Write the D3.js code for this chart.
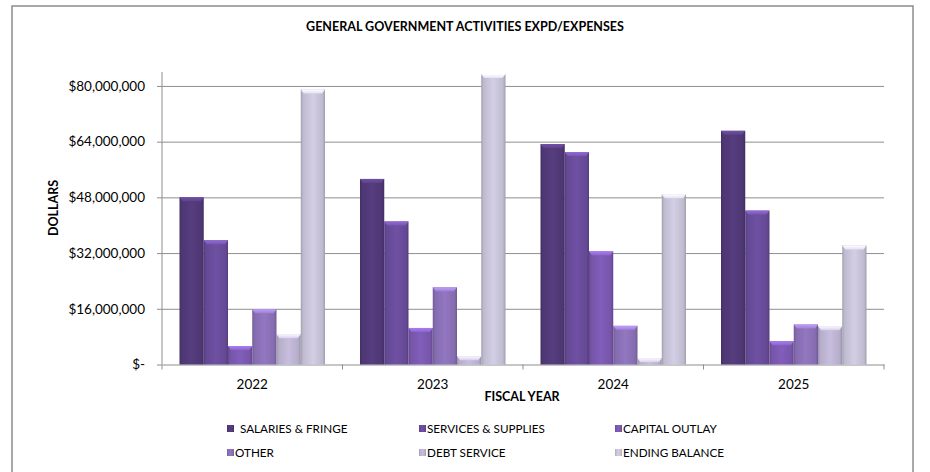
<!DOCTYPE html>
<html>
<head>
<meta charset="utf-8">
<script src="https://cdn.jsdelivr.net/npm/d3@7"></script>
<style>
  html, body { margin: 0; padding: 0; background: #fff; }
  svg { display: block; }
  text { font-family: Lato, "Open Sans", "Noto Sans", sans-serif; fill: #000; }
</style>
</head>
<body>
<svg id="chart" width="930" height="472"></svg>
<script>
// Fiscal years on the category axis
const years = ["2022", "2023", "2024", "2025"];

// Series names, in legend order
const seriesNames = ["SALARIES & FRINGE", "SERVICES & SUPPLIES", "CAPITAL OUTLAY", "OTHER", "DEBT SERVICE", "ENDING BALANCE"];

// Dollar amounts per fiscal year
const salariesFringe   = [48000000, 53300000, 63300000, 67100000];
const servicesSupplies = [35700000, 41100000, 61000000, 44200000];
const capitalOutlay    = [5300000, 10500000, 32500000, 6700000];
const otherExp         = [15900000, 22200000, 11100000, 11500000];
const debtService      = [8700000, 2400000, 1800000, 11000000];
const endingBalance    = [79000000, 83400000, 48900000, 34200000];

// Value axis ticks
const yTicks = [0, 16000000, 32000000, 48000000, 64000000, 80000000];

const seriesValues = [salariesFringe, servicesSupplies, capitalOutlay, otherExp, debtService, endingBalance];
const seriesColors = ["#523a7a", "#6a4d9c", "#7c5ab2", "#8c72b9", "#bfb6d4", "#cac5da"];

const svg = d3.select("#chart");

// Outer chart frame
svg.append("rect")
  .attr("x", 12).attr("y", 6).attr("width", 901).attr("height", 480)
  .attr("fill", "#fff").attr("stroke", "#8c8c8c").attr("stroke-width", 1.5);

const plot = { left: 162, right: 884, top: 72, bottom: 364.5 };

const x0 = d3.scaleBand().domain(years).range([plot.left, plot.right]).padding(0);
const groupPad = 17.5;
const x1 = d3.scaleBand().domain(seriesNames).range([groupPad, x0.bandwidth() - groupPad]).padding(0);
const y = d3.scaleLinear().domain([0, 84000000]).range([plot.bottom, plot.top]);

const fmt = v => v === 0 ? "$-" : "$" + d3.format(",")(v);

// Gradients giving each bar a rounded, bevelled look
const defs = svg.append("defs");
seriesColors.forEach((c, i) => {
  const base = d3.color(c);
  const g = defs.append("linearGradient").attr("id", "grad" + i)
    .attr("x1", "0%").attr("x2", "100%").attr("y1", "0%").attr("y2", "0%");
  g.append("stop").attr("offset", "0%").attr("stop-color", base.darker(0.6));
  g.append("stop").attr("offset", "10%").attr("stop-color", base.darker(0.15));
  g.append("stop").attr("offset", "50%").attr("stop-color", base.brighter(0.12));
  g.append("stop").attr("offset", "90%").attr("stop-color", base.darker(0.15));
  g.append("stop").attr("offset", "100%").attr("stop-color", base.darker(0.65));
  const cap = defs.append("linearGradient").attr("id", "cap" + i)
    .attr("x1", "0%").attr("x2", "0%").attr("y1", "0%").attr("y2", "100%");
  cap.append("stop").attr("offset", "0%").attr("stop-color", base.brighter(0.9));
  cap.append("stop").attr("offset", "100%").attr("stop-color", base.brighter(0.35));
});

// Horizontal gridlines
svg.append("g")
  .attr("transform", `translate(${plot.left},0)`)
  .call(d3.axisLeft(y).tickValues(yTicks.slice(1)).tickSize(-(plot.right - plot.left)).tickFormat(""))
  .call(g => g.select(".domain").remove())
  .call(g => g.selectAll("line").attr("stroke", "#8e8e8e").attr("stroke-width", 1));

// Value axis with labels
svg.append("g")
  .attr("transform", `translate(${plot.left},0)`)
  .call(d3.axisLeft(y).tickValues(yTicks).tickFormat(fmt).tickSize(5).tickPadding(12))
  .call(g => g.select(".domain").attr("d", `M0,${plot.top}V${plot.bottom}`).attr("stroke", "#8e8e8e"))
  .call(g => g.selectAll("line").attr("stroke", "#8e8e8e"))
  .call(g => g.selectAll("text").style("font-size", "13.5px").attr("fill", "#000"));

// Category axis: line, boundary ticks and year labels
const xAxis = svg.append("g").attr("transform", `translate(0,${plot.bottom})`);
xAxis.call(d3.axisBottom(x0).tickSize(0).tickPadding(15))
  .call(g => g.select(".domain").attr("stroke", "#8e8e8e"))
  .call(g => g.selectAll("text").style("font-size", "13.5px").attr("fill", "#000"));
const bounds = years.map(d => x0(d)).concat([plot.right]);
xAxis.selectAll("line.bound").data(bounds).join("line").attr("class", "bound")
  .attr("x1", d => d).attr("x2", d => d).attr("y1", 0).attr("y2", 5)
  .attr("stroke", "#8e8e8e");

// Bars
const groups = svg.append("g").selectAll("g").data(years).join("g")
  .attr("transform", d => `translate(${x0(d)},0)`);

groups.each(function(year, yi) {
  const g = d3.select(this);
  seriesNames.forEach((name, si) => {
    const v = seriesValues[si][yi];
    const bx = x1(name), bw = x1.bandwidth();
    const top = y(v), h = y(0) - y(v);
    g.append("rect")
      .attr("x", bx).attr("y", top).attr("width", bw).attr("height", h)
      .attr("fill", `url(#grad${si})`);
    const capH = Math.min(4, h);
    g.append("polygon")
      .attr("points", [[bx, top], [bx + bw, top], [bx + bw - 3, top + capH], [bx + 3, top + capH]].map(p => p.join(",")).join(" "))
      .attr("fill", `url(#cap${si})`);
  });
});

// Title and axis titles
svg.append("text").attr("x", 465).attr("y", 31).attr("text-anchor", "middle")
  .style("font-size", "12.5px").style("font-weight", "bold")
  .text("GENERAL GOVERNMENT ACTIVITIES EXPD/EXPENSES");

svg.append("text").attr("transform", "translate(58,208) rotate(-90)").attr("text-anchor", "middle")
  .style("font-size", "12.5px").style("font-weight", "bold").text("DOLLARS");

svg.append("text").attr("x", 522).attr("y", 401).attr("text-anchor", "middle")
  .style("font-size", "12.5px").style("font-weight", "bold").text("FISCAL YEAR");

// Legend: three columns, two rows
const legendCols = [227, 419, 615];
const legendRows = [429, 453];
const legend = svg.append("g").selectAll("g").data(seriesNames).join("g")
  .attr("transform", (d, i) => `translate(${legendCols[i % 3]},${legendRows[Math.floor(i / 3)]})`);
legend.append("rect").attr("x", 0).attr("y", -4).attr("width", 7).attr("height", 7)
  .attr("fill", (d, i) => `url(#grad${i})`);
legend.append("text").attr("x", (d, i) => i === 0 ? 13 : 8).attr("y", 0).attr("dy", "0.35em")
  .style("font-size", "11.7px").text(d => d);
</script>
</body>
</html>
